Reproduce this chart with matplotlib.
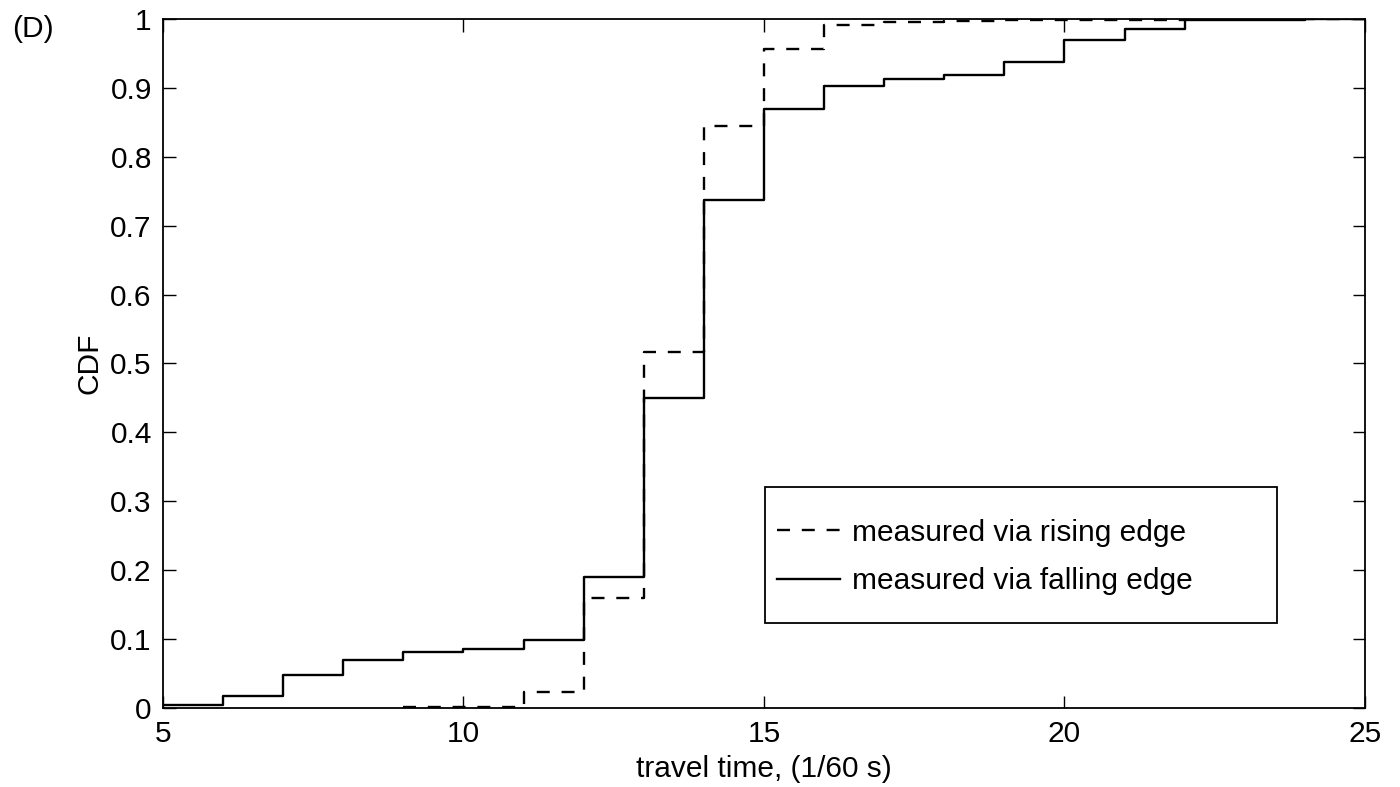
import matplotlib.pyplot as plt
from matplotlib.patches import Rectangle
from matplotlib.ticker import FuncFormatter

plt.rcParams['font.family'] = ['Liberation Sans', 'DejaVu Sans']

# step edges (left edge of each bin) and CDF levels
rising_x = [9, 10, 11, 12, 13, 14, 15, 16, 17, 18, 19, 20, 21, 22, 23, 24, 25]
rising_y = [0.001, 0.002, 0.023, 0.16, 0.516, 0.845, 0.957, 0.991, 0.996, 0.997,
            0.998, 0.998, 0.999, 1.0, 1.0, 1.0, 1.0]

falling_x = [5, 6, 7, 8, 9, 10, 11, 12, 13, 14, 15, 16, 17, 18, 19, 20, 21, 22, 23, 24, 25]
falling_y = [0.005, 0.018, 0.048, 0.069, 0.081, 0.085, 0.098, 0.19, 0.45, 0.737,
             0.87, 0.903, 0.913, 0.918, 0.938, 0.970, 0.986, 0.998, 0.999, 1.0, 1.0]

fs = 21.5

fig = plt.figure(figsize=(14, 7.87), dpi=100)
ax = fig.add_axes([0.1164, 0.1004, 0.8586, 0.8755])

ax.step(rising_x, rising_y, where='post', color='black', lw=1.7,
        linestyle=(0, (5.5, 5)), label='measured via rising edge')
ax.step(falling_x, falling_y, where='post', color='black', lw=1.7,
        label='measured via falling edge')

ax.set_xlim(5, 25)
ax.set_ylim(0, 1)
ax.set_xticks([5, 10, 15, 20, 25])
ax.set_yticks([i / 10 for i in range(11)])
ax.yaxis.set_major_formatter(FuncFormatter(lambda v, p: f"{v:g}"))
ax.tick_params(direction='in', top=True, right=True, length=9, width=1,
               labelsize=fs)
ax.tick_params(axis='y', pad=8)
ax.tick_params(axis='x', pad=9)
for s in ax.spines.values():
    s.set_linewidth(1.3)

ax.set_xlabel('travel time, (1/60 s)', fontsize=fs, labelpad=5)
ax.set_ylabel('CDF', fontsize=fs, labelpad=5)

# legend box drawn separately so the padding matches the original
ax.add_patch(Rectangle((0.5008, 0.1234), 0.426, 0.197, transform=ax.transAxes,
                       fill=True, facecolor='white', edgecolor='black',
                       lw=1.3, zorder=4))
leg = ax.legend(loc='center left', bbox_to_anchor=(0.511, 0.219),
                fontsize=fs, frameon=False, handlelength=2.1,
                handletextpad=0.4, borderaxespad=0, borderpad=0,
                labelspacing=0.68)
leg.set_zorder(5)

fig.text(0.009, 0.963, '(D)', fontsize=fs, va='center', ha='left')

fig.savefig('out.png', dpi=100)
